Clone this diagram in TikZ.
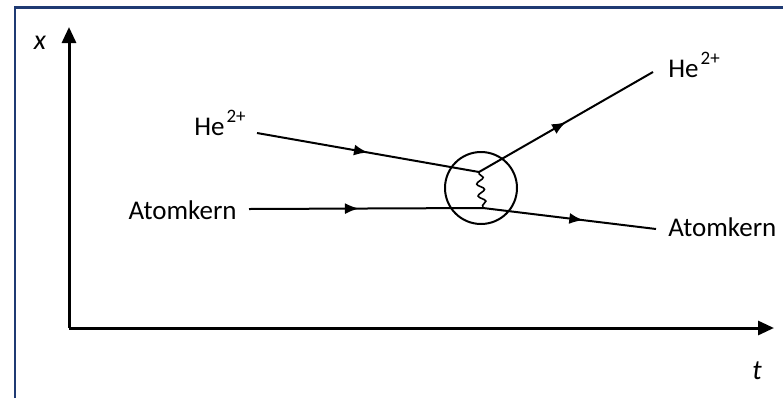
\documentclass[tikz,border=0pt]{standalone}
\usepackage{fontspec}
\setmainfont{Carlito}
\usepackage{xcolor}
\usepackage{tikz}
\usetikzlibrary{arrows.meta,positioning,decorations.markings,decorations.pathmorphing}
\definecolor{framenavy}{HTML}{1F3A73}
\newcommand{\hecharge}{He\kern1pt\raisebox{6.5pt}{\fontsize{9.5}{10}\selectfont 2+}}
\tikzset{
  axisline/.style={line width=1.5pt,-{Triangle[length=8pt,width=7pt]}},
  pathline/.style={line width=1pt},
  midarrow/.style={postaction={decorate},decoration={markings,
                   mark=at position #1 with {\arrow{Latex[length=7pt,width=5.5pt]}}}},
  lbl/.style={font=\fontsize{13.5}{16}\selectfont,inner sep=0pt},
  axlbl/.style={font=\fontsize{14}{16}\selectfont\itshape,inner sep=0pt},
  hitcircle/.style={circle,draw,line width=1pt,minimum size=36pt,inner sep=0pt},
  photon/.style={line width=0.8pt,decorate,decoration={snake,segment length=6pt,
                 amplitude=1.8pt,pre length=1pt,post length=1pt}},
}

\begin{document}
\begin{tikzpicture}[x=0.5pt,y=-0.5pt]
  \useasboundingbox (0,0) rectangle (783,398);
  % frame, open to the right and below
  \draw[framenavy,line width=1.2pt] (15,398) -- (15,7.5) -- (783,7.5);
  % axes
  \coordinate (origin) at (69,328);
  \coordinate (xtop) at (69,27);
  \coordinate (tend) at (774,328);
  \draw[axisline] (origin) -- (xtop);
  \draw[axisline] (origin) -- (tend);
  \node[axlbl] (xlbl) at (40,43) {x};
  \node[axlbl] (tlbl) at (757,371) {t};
  % collision point
  \node[hitcircle] (hit) at (481,188) {};
  \coordinate (hitHe) at (479,172);
  \coordinate (hitAk) at (483,208);
  % line ends next to the labels
  \coordinate (heIn) at (257,133);
  \coordinate (akIn) at (249,209);
  \coordinate (heOut) at (653,72);
  \coordinate (akOut) at (656,229);
  \node[lbl,anchor=base east] (heInLbl) at (246,135) {\hecharge};
  \node[lbl,anchor=east] (akInLbl) at (237,210) {Atomkern};
  \node[lbl,anchor=base west] (heOutLbl) at (668,77) {\hecharge};
  \node[lbl,anchor=west] (akOutLbl) at (668,227) {Atomkern};
  % particle tracks
  \draw[pathline,midarrow=0.5] (heIn) -- (hitHe);
  \draw[pathline,midarrow=0.47] (akIn) -- (hitAk);
  \draw[pathline,midarrow=0.5] (hitHe) -- (heOut);
  \draw[pathline,midarrow=0.58] (hitAk) -- (akOut);
  % exchange
  \draw[photon] (hitHe) -- (hitAk);
\end{tikzpicture}
\end{document}
